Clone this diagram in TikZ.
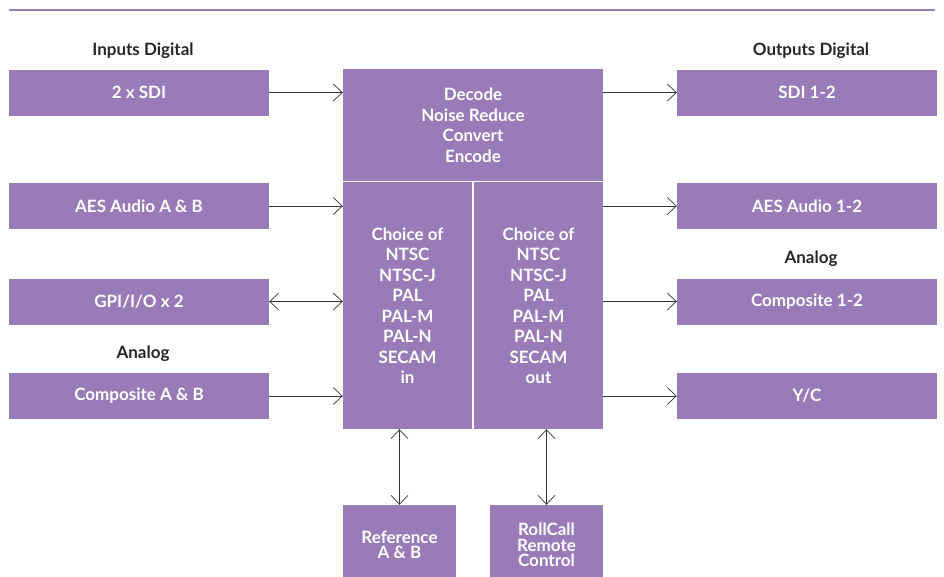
\documentclass[tikz,border=0pt]{standalone}
\usepackage{fontspec}
\setmainfont{Lato}
\usetikzlibrary{arrows.meta}
\definecolor{boxpurple}{HTML}{987BB7}
\definecolor{linegray}{HTML}{333333}

\begin{document}
\begin{tikzpicture}[x=1pt,y=-1pt,
    box/.style={fill=boxpurple, text=white, font=\fontsize{17}{20.5}\selectfont\bfseries,
        align=center, inner sep=0pt, minimum width=260pt, minimum height=46pt},
    smallbox/.style={box, minimum width=113pt, minimum height=80pt,
        font=\fontsize{17}{15.5}\selectfont\bfseries},
    head/.style={font=\fontsize{17}{18}\selectfont\bfseries, text=black!85},
    arr/.style={draw=linegray, line width=0.7pt, -{Straight Barb[length=9pt,width=17pt]}},
    darr/.style={draw=linegray, line width=0.7pt, {Straight Barb[length=9pt,width=17pt]}-{Straight Barb[length=9pt,width=17pt]}}]

    \useasboundingbox (0,0) rectangle (944,576);

    % Rule at the top
    \draw[boxpurple, line width=2pt] (9,10) -- (935,10);

    % Place the input side
    \node[head] (inhead) at (143,51) {Inputs Digital};
    \node[box] (sdiin) at (139,92.5) {2 x SDI};
    \node[box] (aesin) at (139,206) {AES Audio A \& B};
    \node[box] (gpio) at (139,301.5) {GPI/I/O x 2};
    \node[head] (inanalog) at (143,354) {Analog};
    \node[box] (compin) at (139,396) {Composite A \& B};

    % Place the processing block
    \node[box, minimum width=260pt, minimum height=112pt] (proc) at (473,125)
        {Decode\\Noise Reduce\\Convert\\Encode};
    \node[box, minimum width=129pt, minimum height=247pt] (stdin) at (407.5,305.5)
        {Choice of\\NTSC\\NTSC-J\\PAL\\PAL-M\\PAL-N\\SECAM\\in};
    \node[box, minimum width=129pt, minimum height=247pt] (stdout) at (538.5,305.5)
        {Choice of\\NTSC\\NTSC-J\\PAL\\PAL-M\\PAL-N\\SECAM\\out};

    % Place the bottom boxes (they run off the page)
    \node[smallbox] (ref) at (399.5,545) {Reference\\A \& B};
    \node[smallbox] (rollcall) at (546.5,545) {RollCall\\Remote\\Control};

    % Place the output side
    \node[head] (outhead) at (811,51) {Outputs Digital};
    \node[box] (sdiout) at (807,92.5) {SDI 1-2};
    \node[box] (aesout) at (807,206) {AES Audio 1-2};
    \node[head] (outanalog) at (811,259) {Analog};
    \node[box] (compout) at (807,301.5) {Composite 1-2};
    \node[box] (yc) at (807,396) {Y/C};

    % Draw the connections
    \draw[arr] (sdiin.east) -- (sdiin.east -| proc.west);
    \draw[arr] (aesin.east) -- (aesin.east -| stdin.west);
    \draw[darr] (gpio.east) -- (gpio.east -| stdin.west);
    \draw[arr] (compin.east) -- (compin.east -| stdin.west);
    \draw[arr] (proc.east |- sdiout.west) -- (sdiout.west);
    \draw[arr] (stdout.east |- aesout.west) -- (aesout.west);
    \draw[arr] (stdout.east |- compout.west) -- (compout.west);
    \draw[arr] (stdout.east |- yc.west) -- (yc.west);
    \draw[darr] (ref.north |- stdin.south) -- (ref.north);
    \draw[darr] (rollcall.north |- stdout.south) -- (rollcall.north);

\end{tikzpicture}
\end{document}
